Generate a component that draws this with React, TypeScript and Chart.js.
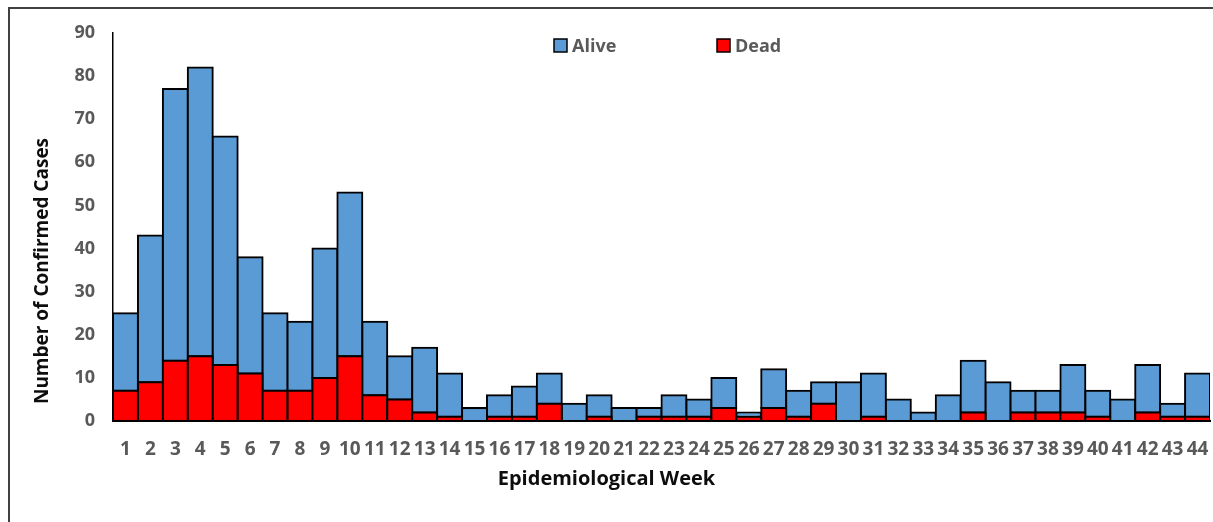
import React, { useEffect, useRef } from "react";
import { Chart, registerables } from "chart.js";

Chart.register(...registerables);

const weeks = [
  "1", "2", "3", "4", "5", "6", "7", "8", "9", "10", "11",
  "12", "13", "14", "15", "16", "17", "18", "19", "20", "21", "22",
  "23", "24", "25", "26", "27", "28", "29", "30", "31", "32", "33",
  "34", "35", "36", "37", "38", "39", "40", "41", "42", "43", "44",
];

const deadCases = [
  7, 9, 14, 15, 13, 11, 7, 7, 10, 15, 6,
  5, 2, 1, 0, 1, 1, 4, 0, 1, 0, 1,
  1, 1, 3, 1, 3, 1, 4, 0, 1, 0, 0,
  0, 2, 0, 2, 2, 2, 1, 0, 2, 1, 1,
];

const aliveCases = [
  18, 34, 63, 67, 53, 27, 18, 16, 30, 38, 17,
  10, 15, 10, 3, 5, 7, 7, 4, 5, 3, 2,
  5, 4, 7, 1, 9, 6, 5, 9, 10, 5, 2,
  6, 12, 9, 5, 5, 11, 6, 5, 11, 3, 10,
];

const seriesNames = ["Alive", "Dead"];
const yAxisTitle = "Number of Confirmed Cases";
const xAxisTitle = "Epidemiological Week";

const BLUE = "#5B9BD5";
const RED = "#FF0000";
const GREY = "#595959";
const FONT = "'Open Sans', 'DejaVu Sans', sans-serif";

const CANVAS_W = 1203;
const CANVAS_H = 513;

const textPlugin = {
  id: "textPlugin",
  afterDraw(chart: any) {
    const { ctx, chartArea, width } = chart;
    ctx.save();
    // legend
    const items = [
      { label: seriesNames[0], color: BLUE, dx: 441 },
      { label: seriesNames[1], color: RED, dx: 604 },
    ];
    const boxSize = 13;
    const boxTop = chartArea.top + 6;
    ctx.font = `bold 18px ${FONT}`;
    ctx.textBaseline = "middle";
    ctx.textAlign = "left";
    for (const it of items) {
      const x = chartArea.left + it.dx;
      ctx.fillStyle = it.color;
      ctx.fillRect(x, boxTop, boxSize, boxSize);
      ctx.lineWidth = 1.5;
      ctx.strokeStyle = "#000";
      ctx.strokeRect(x, boxTop, boxSize, boxSize);
      ctx.fillStyle = GREY;
      ctx.fillText(it.label, x + boxSize + 5, boxTop + boxSize / 2 + 1);
    }
    // y title
    ctx.save();
    ctx.translate(33, 262);
    ctx.rotate(-Math.PI / 2);
    ctx.font = `bold 19px ${FONT}`;
    ctx.fillStyle = "#0d0d0d";
    ctx.textAlign = "center";
    ctx.textBaseline = "middle";
    ctx.fillText(yAxisTitle, 0, 0);
    ctx.restore();
    // x title
    ctx.font = `bold 20px ${FONT}`;
    ctx.fillStyle = "#0d0d0d";
    ctx.textAlign = "center";
    ctx.textBaseline = "middle";
    ctx.fillText(xAxisTitle, width / 2 - 5, 470);
    ctx.restore();
  },
};

export default function App() {
  const canvasRef = useRef<HTMLCanvasElement | null>(null);

  useEffect(() => {
    if (!canvasRef.current) return;
    const chart = new Chart(canvasRef.current, {
      type: "bar",
      data: {
        labels: weeks,
        datasets: [
          {
            label: seriesNames[1],
            data: deadCases,
            backgroundColor: RED,
            borderColor: "#000",
            borderWidth: 2,
            borderSkipped: false,
            inflateAmount: 1,
            categoryPercentage: 1,
            barPercentage: 1,
          },
          {
            label: seriesNames[0],
            data: aliveCases,
            backgroundColor: BLUE,
            borderColor: "#000",
            borderWidth: 2,
            borderSkipped: false,
            inflateAmount: 1,
            categoryPercentage: 1,
            barPercentage: 1,
          },
        ],
      },
      options: {
        responsive: false,
        animation: false,
        layout: { padding: { top: 24, right: 3, left: 0, bottom: 0 } },
        plugins: {
          legend: { display: false },
          tooltip: { enabled: false },
          title: { display: false },
        },
        scales: {
          x: {
            stacked: true,
            grid: { display: false, drawTicks: false },
            border: { display: true, color: "#000", width: 2 },
            ticks: {
              autoSkip: false,
              maxRotation: 0,
              minRotation: 0,
              padding: 17,
              color: GREY,
              font: { family: FONT, size: 19, weight: "bold" },
            },
            afterFit: (s: any) => {
              s.height = 101;
              s.paddingLeft = 0;
              s.paddingRight = 0;
            },
          },
          y: {
            stacked: true,
            min: 0,
            max: 90,
            grid: { display: false, drawTicks: false },
            border: { display: true, color: "#000", width: 1.5 },
            ticks: {
              stepSize: 10,
              padding: 18,
              color: GREY,
              font: { family: FONT, size: 18, weight: "bold" },
            },
            afterFit: (s: any) => {
              s.width = 103;
              s.paddingTop = 0;
              s.paddingBottom = 0;
            },
          },
        },
      },
      plugins: [textPlugin],
    });
    return () => chart.destroy();
  }, []);

  return (
    <div
      style={{
        position: "fixed",
        left: 8,
        top: 7,
        width: CANVAS_W,
        height: CANVAS_H,
        borderTop: "2px solid #404040",
        borderLeft: "2px solid #404040",
        overflow: "hidden",
        background: "#fff",
      }}
    >
      <canvas ref={canvasRef} width={CANVAS_W} height={CANVAS_H} style={{ display: "block" }} />
    </div>
  );
}
